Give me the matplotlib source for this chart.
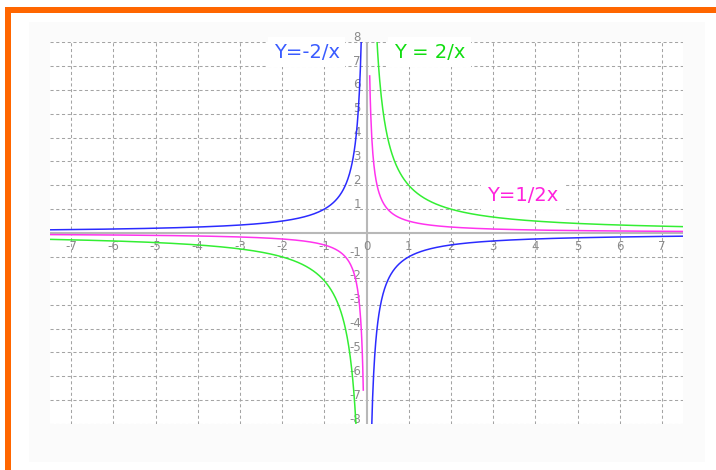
"""
Reciprocal function curves y = k/x on a dashed grid, with an orange frame.
"""

import numpy as np
import matplotlib
matplotlib.use("Agg")
import matplotlib.pyplot as plt
from matplotlib.patches import Rectangle

# curves: y = k / x, drawn for |x| between x_start and the plot edge
curve_k = [-1.0, 2.0, 0.5]
curve_x_start = [0.12, 0.24, 0.076]
curve_colors = ['#2b2bff', '#33ee33', '#ff33ee']

# labels written on the chart
label_texts = ['Y=-2/x', 'Y = 2/x', 'Y=1/2x']
label_x = [-1.42, 1.49, 3.70]
label_y = [7.57, 7.57, 1.58]
label_colors = ['#3a5cff', '#11dd11', '#ff22dd']

# tick numbers
x_ticks = [-7, -6, -5, -4, -3, -2, -1, 0, 1, 2, 3, 4, 5, 6, 7]
y_ticks = [-8, -7, -6, -5, -4, -3, -2, -1, 1, 2, 3, 4, 5, 6, 7, 8]

X_MIN, X_MAX = -7.5, 7.5
Y_MIN, Y_MAX = -8, 8

fig = plt.figure(figsize=(7.16, 4.70), dpi=100)
fig.patch.set_facecolor('white')

# faint panel and orange frame (top + left)
fig.patches.append(Rectangle((29 / 716, 8 / 470), 676 / 716, 440 / 470,
                             transform=fig.transFigure, facecolor='#fbfbfb',
                             edgecolor='none', zorder=-2))
fig.patches.append(Rectangle((5 / 716, 457 / 470), 711 / 716, 6 / 470,
                             transform=fig.transFigure, facecolor='#ff6600',
                             edgecolor='none', zorder=-2))
fig.patches.append(Rectangle((5 / 716, 0), 6 / 716, 463 / 470,
                             transform=fig.transFigure, facecolor='#ff6600',
                             edgecolor='none', zorder=-2))

ax = fig.add_axes([50 / 716, 46 / 470, 633 / 716, 382 / 470])
ax.set_facecolor('white')
ax.set_xlim(X_MIN, X_MAX)
ax.set_ylim(Y_MIN, Y_MAX)
for s in ax.spines.values():
    s.set_visible(False)
ax.set_xticks([])
ax.set_yticks([])

# dashed grid
grid_kw = dict(color='#a4a4a4', linewidth=0.75, dashes=(3, 2.5), zorder=1)
for v in x_ticks:
    if v != 0:
        ax.axvline(v, **grid_kw)
for v in y_ticks:
    ax.axhline(v, **grid_kw)

# axes
ax.axhline(0, color='#b8b8b8', linewidth=1.5, zorder=2)
ax.axvline(0, color='#b8b8b8', linewidth=1.5, zorder=2)

# tick numbers
tick_font = dict(fontsize=8.5, color='#8a8a8a',
                 family=['Liberation Sans Narrow', 'DejaVu Sans'])
for v in x_ticks:
    ax.annotate(str(v), (v, 0), xytext=(0, -9.5), textcoords='offset points',
                ha='center', va='center', zorder=3, **tick_font)
for v in y_ticks:
    ax.annotate(str(v), (0, v), xytext=(-4, 3.5), textcoords='offset points',
                ha='right', va='center', zorder=3, **tick_font)

# labels
for txt, lx, ly, c in zip(label_texts, label_x, label_y, label_colors):
    ax.text(lx, ly, txt, color=c, fontsize=14, ha='center', va='center',
            zorder=4, bbox=dict(facecolor='white', edgecolor='none', pad=4))

# curves
for k, x0, c in zip(curve_k, curve_x_start, curve_colors):
    xr = np.linspace(x0, X_MAX, 600)
    xl = -xr[::-1]
    ax.plot(xl, k / xl, color=c, linewidth=1.1, zorder=5)
    ax.plot(xr, k / xr, color=c, linewidth=1.1, zorder=5)

fig.savefig('out.png', dpi=100, facecolor='white')
